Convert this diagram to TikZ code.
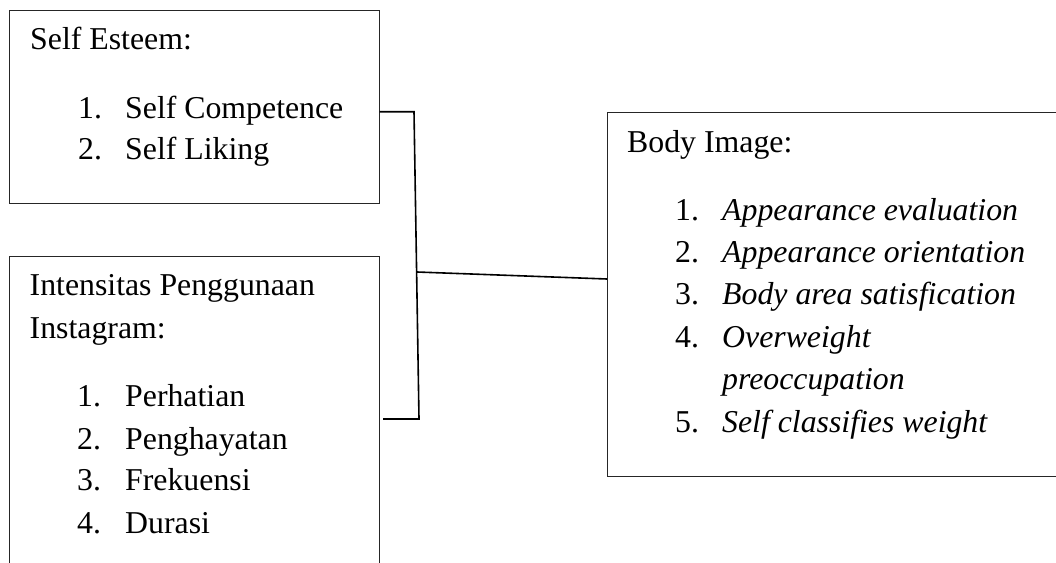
\documentclass[tikz,border=0pt]{standalone}
\usepackage{fontspec}
\setmainfont{Liberation Serif}
\begin{document}
\begin{tikzpicture}[x=1pt,y=-1pt,
  box/.style={draw=black!85,line width=1.1pt,rectangle,inner sep=0pt,anchor=north west},
  txt/.style={anchor=base west,inner sep=0pt,font=\fontsize{31.8}{42}\selectfont},
  itx/.style={txt,font=\fontsize{31.8}{42}\selectfont\itshape},
  conn/.style={draw=black,line width=1.6pt}]
\clip (0,0) rectangle (1056,562);
\fill[white] (0,0) rectangle (1056,562);
% boxes
\node[box,minimum width=370pt,minimum height=193pt] (se) at (8.5,10) {};
\node[box,minimum width=370.5pt,minimum height=330pt] (ig) at (8.5,255.7) {};
\node[box,minimum width=460pt,minimum height=364pt] (bi) at (607,112) {};
% Self Esteem text
\node[txt] (se0) at (30,49.3) {Self Esteem:};
\node[txt] (se1n) at (78,118.3) {1.};
\node[txt] (se1) at (125,118.3) {Self Competence};
\node[txt] (se2n) at (78,159) {2.};
\node[txt] (se2) at (125,159) {Self Liking};
% Intensitas text
\node[txt] (ig0) at (29.5,295) {Intensitas Penggunaan};
\node[txt] (ig0b) at (29.5,338) {Instagram:};
\node[txt] (ig1n) at (77,406.7) {1.};
\node[txt] (ig1) at (125,406.7) {Perhatian};
\node[txt] (ig2n) at (77,449) {2.};
\node[txt] (ig2) at (125,449) {Penghayatan};
\node[txt] (ig3n) at (77,490.7) {3.};
\node[txt] (ig3) at (125,490.7) {Frekuensi};
\node[txt] (ig4n) at (77,533.3) {4.};
\node[txt] (ig4) at (125,533.3) {Durasi};
% Body Image text
\node[txt] (bi0) at (627,152.7) {Body Image:};
\node[txt] (bi1n) at (675,220) {1.};
\node[itx] (bi1) at (722,220) {Appearance evaluation};
\node[txt] (bi2n) at (675,262) {2.};
\node[itx] (bi2) at (722,262) {Appearance orientation};
\node[txt] (bi3n) at (675,304) {3.};
\node[itx] (bi3) at (722,304) {Body area satisfication};
\node[txt] (bi4n) at (675,347) {4.};
\node[itx] (bi4) at (722,347) {Overweight};
\node[itx] (bi4b) at (722,389) {preoccupation};
\node[txt] (bi5n) at (675,432) {5.};
\node[itx] (bi5) at (722,432) {Self classifies weight};
% connectors
\coordinate (j1) at (414,111.7);
\coordinate (j2) at (419,419);
\coordinate (jm) at (417,272);
\coordinate (jb) at (0,279);
\draw[conn] (se.east |- j1) -- (j1) -- (j2) -- ([xshift=3pt]ig.east |- j2);
\draw[conn] (jm) -- (bi.west |- jb);
\end{tikzpicture}
\end{document}
